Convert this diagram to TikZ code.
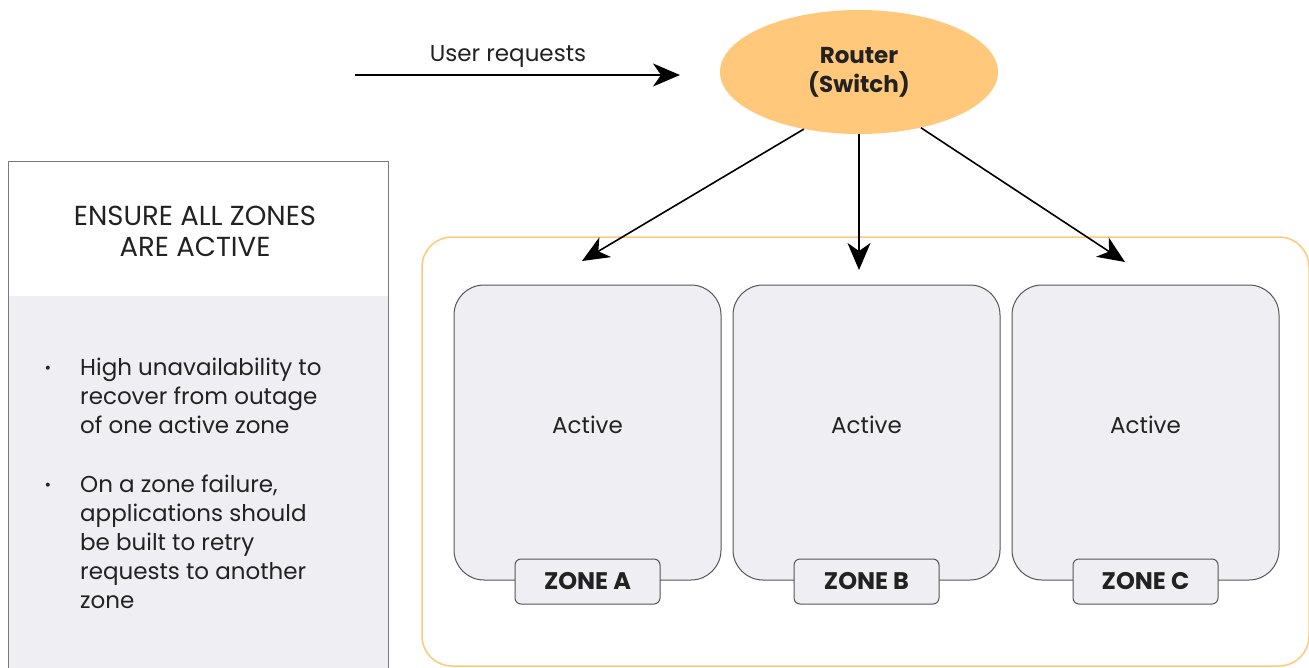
\documentclass[tikz,border=0pt]{standalone}
\usepackage{fontspec}
\setmainfont{Poppins}
\usetikzlibrary{arrows.meta,shapes.geometric}
\definecolor{routerfill}{HTML}{FFC87A}
\definecolor{zonefill}{HTML}{EFEEF3}
\definecolor{zoneline}{HTML}{555555}
\definecolor{panelline}{HTML}{7A7A7A}
\definecolor{txt}{HTML}{222222}
\tikzset{
	zonebox/.style={draw=zoneline, fill=zonefill, rounded corners=30pt, minimum width=267pt, minimum height=295pt, line width=1pt},
	zonetag/.style={draw=zoneline, fill=zonefill, rounded corners=6pt, minimum width=145pt, minimum height=45pt, line width=1pt, text=txt, font=\fontsize{24}{28}\selectfont\bfseries},
	flow/.style={-{Stealth[length=27pt, width=23pt, inset=8pt]}, line width=1.6pt},
	plain/.style={text=txt, font=\fontsize{23}{29}\selectfont},
}
\begin{document}
\begin{tikzpicture}[x=1pt, y=-1pt]
	\useasboundingbox (0, 0) rectangle (1309, 667);
	\clip (0, 0) rectangle (1309, 667);
	% Panel, container and zones:
	\fill[zonefill] (8, 296) rectangle (388, 700);
	\draw[panelline, line width=1pt] (8, 700) -- (8, 161) -- (388, 161) -- (388, 700);
	\node[plain, align=center, font=\fontsize{27.5}{31}\selectfont] (title) at (195, 231) {ENSURE ALL ZONES\\ARE ACTIVE};
	\node[plain, font=\fontsize{16}{16}\selectfont] (dotone) at (48, 370) {•};
	\node[plain, align=left, anchor=north west, inner sep=0pt] (noteone) at (80, 358) {High unavailability to\\recover from outage\\of one active zone};
	\node[plain, font=\fontsize{16}{16}\selectfont] (dottwo) at (48, 487) {•};
	\node[plain, align=left, anchor=north west, inner sep=0pt] (notetwo) at (80, 475) {On a zone failure,\\applications should\\be built to retry\\requests to another\\zone};
	\draw[routerfill, line width=1.5pt, rounded corners=30pt] (422, 237) rectangle (1309, 666);
	\node[zonebox, label={[plain, yshift=8pt]center:Active}] (zonea) at (587.5, 432.5) {};
	\node[zonebox, label={[plain, yshift=8pt]center:Active}] (zoneb) at (866.5, 432.5) {};
	\node[zonebox, label={[plain, yshift=8pt]center:Active}] (zonec) at (1145.5, 432.5) {};
	\node[zonetag] (taga) at (587.5, 581.5) {ZONE A};
	\node[zonetag] (tagb) at (866.5, 581.5) {ZONE B};
	\node[zonetag] (tagc) at (1145.5, 581.5) {ZONE C};
	% Router and requests:
	\node[ellipse, fill=routerfill, minimum width=278pt, minimum height=124pt, align=center, text=txt, font=\fontsize{23}{29}\selectfont\bfseries] (router) at (859, 72) {Router\\(Switch)};
	\coordinate (usersrc) at (355, 75);
	\coordinate (userend) at (680, 75);
	\draw[flow] (usersrc) -- (userend);
	\node[plain] (userlbl) at (508, 56) {User requests};
	\coordinate (tipa) at (582, 261);
	\coordinate (tipb) at (859, 270);
	\coordinate (tipc) at (1125, 262);
	\draw[flow] (router.226) -- (tipa);
	\draw[flow] (router.south) -- (tipb);
	\draw[flow] (router.318) -- (tipc);
\end{tikzpicture}
\end{document}
